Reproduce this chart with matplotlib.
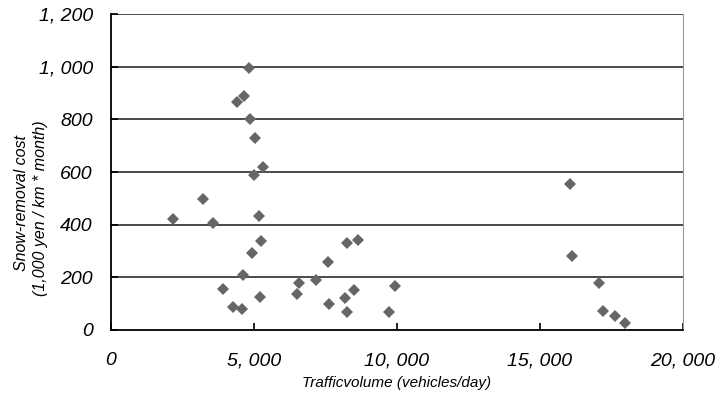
import matplotlib
matplotlib.use('Agg')
import matplotlib.pyplot as plt

plt.rcParams['font.family'] = ['Liberation Sans', 'DejaVu Sans']

# traffic volume (vehicles/day) vs snow-removal cost
traffic = [2160, 3230, 3560, 3910, 4260, 4580, 4420, 4660, 4610, 4810,
           4860, 4930, 5050, 5000, 5180, 5210, 5250, 5320, 6520, 6590,
           7150, 7580, 7610, 8170, 8240, 8240, 8500, 8620, 9720, 9920,
           16050, 16110, 17050, 17190, 17630, 17970]
cost = [420, 497, 408, 154, 86, 80, 865, 889, 209, 996,
        801, 291, 730, 589, 434, 124, 339, 620, 137, 177,
        190, 258, 99, 122, 330, 68, 151, 342, 70, 167,
        553, 282, 180, 73, 53, 25]

xticks = [0, 5000, 10000, 15000, 20000]
xtick_labels = ['0', '5, 000', '10, 000', '15, 000', '20, 000']
yticks = [0, 200, 400, 600, 800, 1000, 1200]
ytick_labels = ['0', '200', '400', '600', '800', '1, 000', '1, 200']

fig = plt.figure(figsize=(7.26, 3.96), dpi=100)
ax = fig.add_axes([0.1529, 0.1667, 0.7879, 0.7979])

for v in yticks[1:]:
    ax.axhline(v, color='#1a1a1a', linewidth=1.1, zorder=1)

ax.plot(traffic, cost, linestyle='none', marker='D', markersize=6.5,
        color='#666666', markeredgewidth=0, zorder=3)

ax.set_xlim(0, 20000)
ax.set_ylim(0, 1200)
ax.set_xticks(xticks)
ax.set_xticklabels(xtick_labels, fontsize=14, style='italic')
ax.set_yticks(yticks)
ax.set_yticklabels(ytick_labels, fontsize=14, style='italic')
ax.tick_params(axis='x', direction='in', length=5, width=1.2, pad=16)
ax.tick_params(axis='y', direction='in', length=5, width=1.2, pad=13)

ax.spines['top'].set_visible(False)
ax.spines['right'].set_color('#999999')
ax.spines['right'].set_linewidth(0.8)
ax.spines['left'].set_linewidth(1.3)
ax.spines['bottom'].set_linewidth(1.3)

fig.text(0.546, 1 - 383 / 396, 'Trafficvolume (vehicles/day)', fontsize=11,
         style='italic', ha='center', va='center')
fig.text(22 / 726, 1 - 203 / 396, 'Snow-removal cost', fontsize=11.5,
         style='italic', ha='center', va='center', rotation=90)
fig.text(41 / 726, 1 - 208 / 396, '(1,000 yen / km * month)', fontsize=11.5,
         style='italic', ha='center', va='center', rotation=90)

plt.savefig('out.png', dpi=100)
